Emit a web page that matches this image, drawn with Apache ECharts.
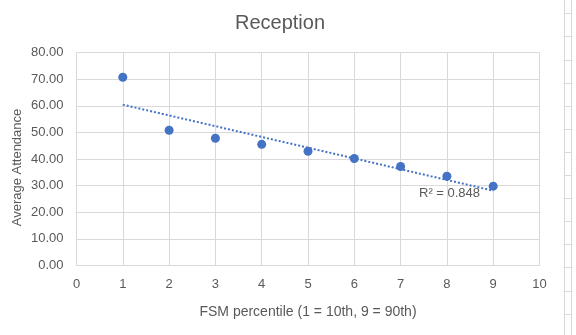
<!DOCTYPE html>
<html>
<head>
<meta charset="utf-8">
<script src="https://cdn.jsdelivr.net/npm/echarts@6/dist/echarts.min.js"></script>
<style>
html,body{margin:0;padding:0;background:#fff;}
#chart{width:576px;height:335px;}
</style>
</head>
<body>
<div id="chart"></div>
<script>
var titleText = "Reception";
var xAxisTitle = "FSM percentile (1 = 10th, 9 = 90th)";
var yAxisTitle = "Average Attendance";
var fsmPercentile = [1, 2, 3, 4, 5, 6, 7, 8, 9];
var avgAttendance = [70.7, 50.8, 47.8, 45.5, 42.9, 40.2, 37.2, 33.5, 29.8];
var trendX = [1, 9];
var trendY = [60.4, 28.1];
var r2Text = "R\u00b2 = 0.848";

var labelColor = "#595959";
var gridColor = "#d9d9d9";
var markColor = "#4472C4";
var font = "Liberation Sans, Arial, sans-serif";

var pts = fsmPercentile.map(function (x, i) { return [x, avgAttendance[i]]; });
var trend = trendX.map(function (x, i) { return [x, trendY[i]]; });

// spreadsheet cell borders visible at right edge
var sheetLines = [
  { type: 'line', shape: { x1: 564.5, y1: 0, x2: 564.5, y2: 335 }, style: { stroke: gridColor, lineWidth: 1 } },
  { type: 'line', shape: { x1: 571.5, y1: 0, x2: 571.5, y2: 335 }, style: { stroke: gridColor, lineWidth: 1 } }
];
for (var k = 0; k < 15; k++) {
  var yy = Math.round(13.3 + 23.1 * k) + 0.5;
  sheetLines.push({ type: 'line', shape: { x1: 564.5, y1: yy, x2: 571.5, y2: yy }, style: { stroke: gridColor, lineWidth: 1 } });
}

var chart = echarts.init(document.getElementById('chart'));
chart.setOption({
  animation: false,
  backgroundColor: '#ffffff',
  title: {
    text: titleText,
    left: 275, top: 8, textAlign: 'center',
    textStyle: { color: labelColor, fontFamily: font, fontSize: 20, fontWeight: 'normal' }
  },
  grid: { left: 76.5, top: 52.5, width: 463, height: 213, containLabel: false },
  xAxis: {
    type: 'value', min: 0, max: 10, interval: 1,
    axisLine: { show: true, lineStyle: { color: gridColor } },
    axisTick: { show: false },
    splitLine: { show: true, lineStyle: { color: gridColor } },
    axisLabel: { color: labelColor, fontFamily: font, fontSize: 13, margin: 12 },
    name: xAxisTitle, nameLocation: 'middle', nameGap: 40,
    nameTextStyle: { color: labelColor, fontFamily: font, fontSize: 14 }
  },
  yAxis: {
    type: 'value', min: 0, max: 80, interval: 10,
    axisLine: { show: false },
    axisTick: { show: false },
    splitLine: { show: true, lineStyle: { color: gridColor } },
    axisLabel: { color: labelColor, fontFamily: font, fontSize: 13, margin: 13,
      formatter: function (v) { return v.toFixed(2); } }
  },
  graphic: sheetLines.concat([
    { type: 'text', x: 17.5, y: 167.5, rotation: Math.PI / 2,
      style: { text: yAxisTitle, fill: labelColor, font: '13px ' + font, textAlign: 'center', textVerticalAlign: 'middle' } },
    { type: 'text', x: 419, y: 193,
      style: { text: r2Text, fill: labelColor, font: '13px ' + font, textAlign: 'left', textVerticalAlign: 'middle' } }
  ]),
  series: [
    {
      type: 'line', data: trend, symbol: 'none', silent: true, z: 2,
      lineStyle: { color: markColor, width: 2, type: [2, 2] }
    },
    {
      type: 'scatter', data: pts, symbol: 'circle', symbolSize: 9, z: 3,
      itemStyle: { color: markColor, opacity: 1 }
    }
  ]
});
</script>
</body>
</html>
